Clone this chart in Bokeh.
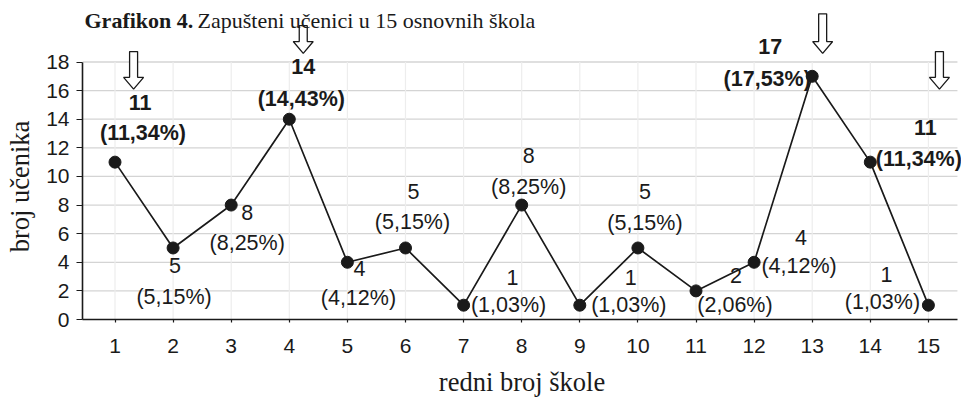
from bokeh.plotting import figure
from bokeh.models import ColumnDataSource, Range1d, Label, FixedTicker
from bokeh.embed import file_html
from bokeh.resources import INLINE
from bokeh.core.properties import value, field

# ---------------- data ----------------
schools = list(range(1, 16))
students = [11, 5, 8, 14, 4, 5, 1, 8, 1, 5, 2, 4, 17, 11, 1]
bold_schools = [1, 4, 13, 14]
y_ticks = [0, 2, 4, 6, 8, 10, 12, 14, 16, 18]
title_bold = "Grafikon 4."
title_rest = "Zapušteni učenici u 15 osnovnih škola"
x_title = "redni broj škole"
y_title = "broj učenika"
# hollow arrows: x position (school scale) and tip height (student scale)
arrow_x = [1.32, 4.24, 13.18, 15.19]
arrow_tip = [16.1, 18.6, 18.6, 16.1]

# ---------------- label placement (screen px offsets) ----------------
val_dx = [25, 2, 16, 14, 12, 8, 49, 7, 51, 7, 40, 47, -42, 55, -42]
val_dy = [-60, 18, 7, -53, 6, -56, -28, -50, -28, -56, -15, -25, -30, -35, -31]
pct_dx = [28, 1, 16, 12, 11, 7, 45, 7, 49, 7, 39, 45, -45, 48.5, -46]
pct_dy = [-29, 49, 38, -20, 36, -26, 0, -18, 0, -25, 14, 4, 3, -3, -3]
arrow_len = [38, 28, 40, 38]   # shaft+head length in px

total = sum(students)
pct_text = ["(" + f"{v / total * 100:.2f}".replace(".", ",") + "%)" for v in students]
val_text = [str(v) for v in students]
styles = ["bold" if s in bold_schools else "normal" for s in schools]

# ---------------- geometry ----------------
W, H = 961, 399
FRAME_L = 82          # canvas x of the y axis
Y0_SCREEN = 322       # canvas y of value 0
PX_X = 58.1           # px per school
PX_Y = 14.44          # px per student
X_LO = 1 - (114.5 - FRAME_L) / PX_X
X_AXIS_END = 15.5
X_HI = X_LO + (W - FRAME_L) / PX_X
Y_HI = Y0_SCREEN / PX_Y


def sx2x(sx):
    return X_LO + (sx - FRAME_L) / PX_X


def sy2y(sy):
    return (Y0_SCREEN - sy) / PX_Y


INK = "#1a1a1a"

p = figure(width=W, height=H, output_backend="svg", toolbar_location=None,
           x_range=Range1d(X_LO, X_HI), y_range=Range1d(0, Y_HI),
           min_border_left=FRAME_L, min_border_right=0,
           min_border_top=0, min_border_bottom=H - Y0_SCREEN)
p.outline_line_color = None
p.background_fill_color = "white"
p.border_fill_color = "white"
p.xgrid.visible = False
p.ygrid.visible = False

# grid lines limited to the chart area
p.segment(x0=[X_LO] * (len(y_ticks) - 1), x1=[X_AXIS_END] * (len(y_ticks) - 1),
          y0=y_ticks[1:], y1=y_ticks[1:], line_color="#d4d4d4", line_width=1.3)
p.segment(x0=schools, x1=schools, y0=[0] * len(schools), y1=[y_ticks[-1]] * len(schools),
          line_color="#ededed", line_width=1.2)

# axes
for ax in (p.xaxis, p.yaxis):
    ax.axis_line_color = INK
    ax.axis_line_width = 1.6
    ax.major_tick_line_color = INK
    ax.major_tick_line_width = 1.2
    ax.minor_tick_line_color = None
    ax.major_label_text_font = "Liberation Sans"
    ax.major_label_text_font_size = "21px"
    ax.major_label_text_color = INK
    ax.axis_label_text_font = "Liberation Serif"
    ax.axis_label_text_font_size = "26.5px"
    ax.axis_label_text_font_style = "normal"
    ax.axis_label_text_color = INK

p.xaxis.ticker = FixedTicker(ticks=schools)
p.xaxis.bounds = (X_LO, X_AXIS_END)
p.xaxis.major_tick_in = 0
p.xaxis.major_tick_out = 3
p.xaxis.major_label_standoff = 16
p.xaxis.axis_label = x_title
p.xaxis.axis_label_standoff = 11

p.yaxis.ticker = FixedTicker(ticks=y_ticks)
p.yaxis.bounds = (0, y_ticks[-1])
p.yaxis.major_tick_in = 0
p.yaxis.major_tick_out = 6
p.yaxis.major_label_standoff = 7
# padded with no-break spaces so that the rotated label sits centred on the 0-18 axis
p.yaxis.axis_label = y_title + "\u00a0" * 8
p.yaxis.axis_label_standoff = 8

# data labels
src = ColumnDataSource(dict(x=schools, y=students, val=val_text, pct=pct_text, style=styles,
                            vdx=val_dx, vdy=val_dy, pdx=pct_dx, pdy=pct_dy))
common = dict(text_font=value("Liberation Sans"), text_font_size="21.5px", text_color=INK,
              text_align="center", text_baseline="middle", text_font_style=field("style"))
p.text(x="x", y="y", text="val", x_offset="vdx", y_offset="vdy", source=src, **common)
p.text(x="x", y="y", text="pct", x_offset="pdx", y_offset="pdy", source=src, **common)

# series
p.line(x="x", y="y", source=src, line_color=INK, line_width=1.7)
p.scatter(x="x", y="y", source=src, size=12, fill_color=INK, line_color=INK)

# hollow down arrows
axs, ays = [], []
for a, t, L in zip(arrow_x, arrow_tip, arrow_len):
    sdx = [0, -10, -4, -4, 4, 4, 10]
    sdy = [0, 12, 12, L, L, 12, 12]
    axs.append([a + d / PX_X for d in sdx])
    ays.append([t + d / PX_Y for d in sdy])
p.patches(xs=axs, ys=ays, fill_color="white", line_color=INK, line_width=1.3)

# title
p.add_layout(Label(x=sx2x(84), y=sy2y(20), text=title_bold, text_font="Liberation Serif",
                   text_font_size="22px", text_font_style="bold", text_color=INK,
                   text_baseline="alphabetic", text_align="left"))
p.add_layout(Label(x=sx2x(197), y=sy2y(20), text=title_rest, text_font="Liberation Serif",
                   text_font_size="22px", text_color=INK,
                   text_baseline="alphabetic", text_align="left"))

open("out.html", "w").write(file_html(p, INLINE))
